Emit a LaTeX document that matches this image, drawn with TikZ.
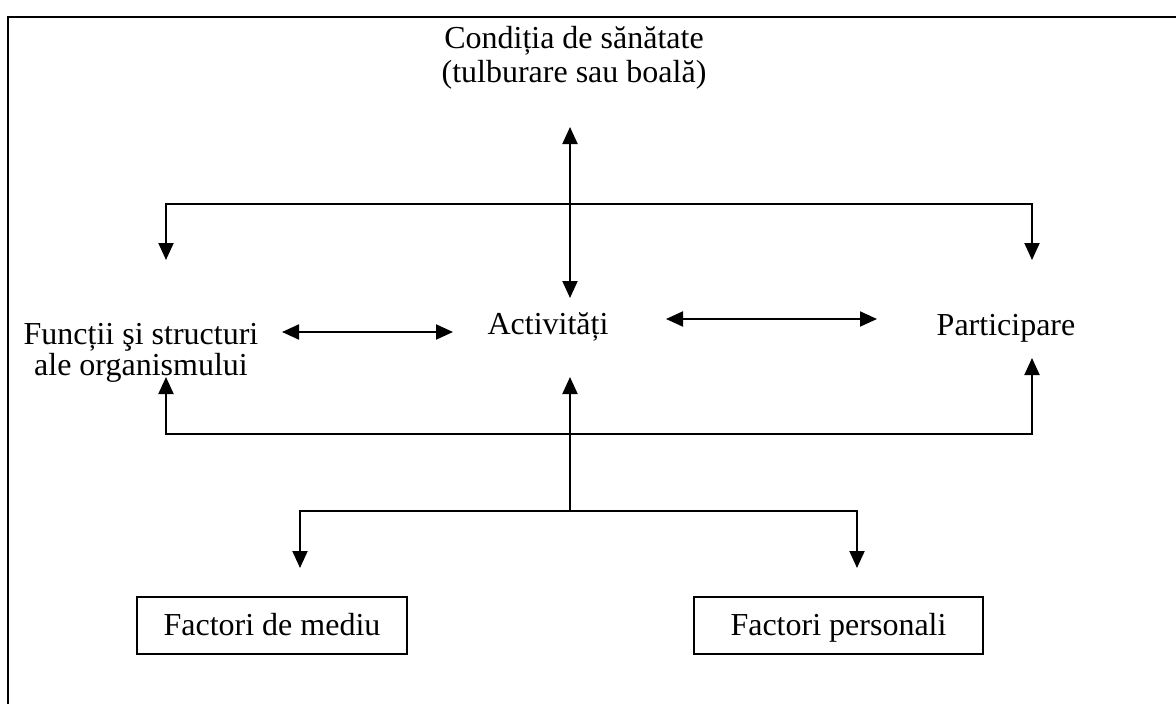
\documentclass[tikz,border=0pt]{standalone}
\usepackage{fontspec}
\setmainfont{Liberation Serif}
\usetikzlibrary{arrows.meta}
\begin{document}
\begin{tikzpicture}[x=1pt,y=-1pt,
  lbl/.style={font=\fontsize{32}{34}\selectfont, inner sep=0pt, align=center},
  boxlbl/.style={font=\fontsize{32}{34}\selectfont, draw, line width=2pt, minimum height=57pt, inner sep=0pt, text height=24pt, text depth=5pt},
  conn/.style={line width=2pt},
  >={Triangle[length=17pt,width=15pt]}]
\useasboundingbox (0,0) rectangle (1176,704);
% frame
\draw[line width=2pt] (7.5,704) -- (7.5,16.5) -- (1176,16.5);
% text nodes
\node[lbl, anchor=base] (cond) at (574,82) {Condiția de sănătate\\(tulburare sau boală)};
\node[lbl, anchor=base, font=\fontsize{32}{31}\selectfont] (func) at (141,375) {Funcții şi structuri\\ale organismului};
\node[lbl, anchor=base] (act) at (548,334) {Activități};
\node[lbl, anchor=base] (part) at (1006,335) {Participare};
\node[boxlbl, minimum width=270pt] (mediu) at (272,625.5) {Factori de mediu};
\node[boxlbl, minimum width=289pt] (pers) at (838.5,625.5) {Factori personali};
% named connector points
\coordinate (condS) at (570,127);
\coordinate (actN) at (570,298);
\coordinate (actS) at (570,377);
\coordinate (topL) at (166,204);
\coordinate (topR) at (1032,204);
\coordinate (funcN) at (166,260);
\coordinate (partN) at (1032,260);
\coordinate (funcS) at (166,377);
\coordinate (partS) at (1032,358);
\coordinate (botL) at (166,434);
\coordinate (botR) at (1032,434);
\coordinate (junc) at (570,511);
\coordinate (brL) at (300,511);
\coordinate (brR) at (857,511);
\coordinate (mediuN) at (300,568);
\coordinate (persN) at (857,568);
\coordinate (funcE) at (282,332);
\coordinate (actW) at (453,332);
\coordinate (actE) at (666,319);
\coordinate (partW) at (877,319);
% connectors
\draw[conn,<->] (condS) -- (actN);
\draw[conn,<->] (funcN) -- (topL) -- (topR) -- (partN);
\draw[conn,<->] (funcS) -- (botL) -- (botR) -- (partS);
\draw[conn,->] (junc) -- (actS);
\draw[conn,<->] (mediuN) -- (brL) -- (brR) -- (persN);
\draw[conn,<->] (funcE) -- (actW);
\draw[conn,<->] (actE) -- (partW);
\end{tikzpicture}
\end{document}
